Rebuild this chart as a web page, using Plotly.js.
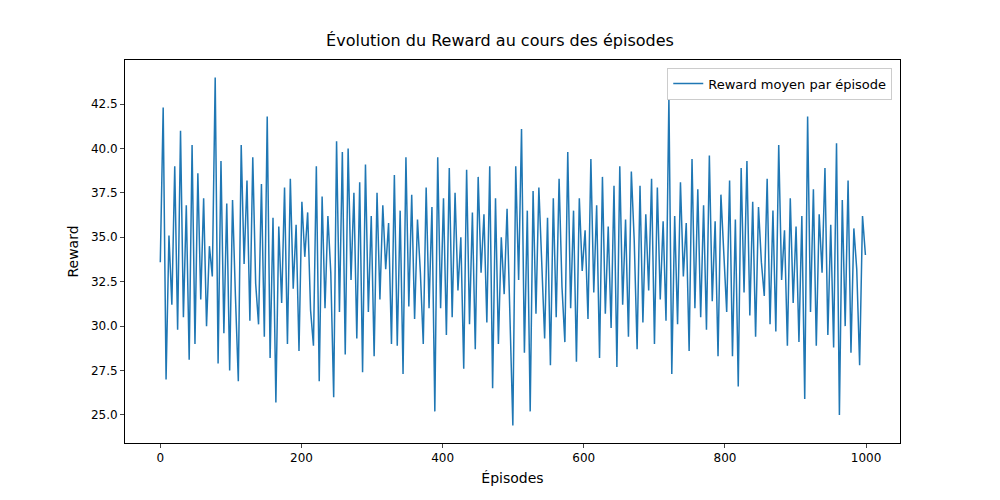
<!DOCTYPE html>
<html><head><meta charset="utf-8">
<script src="https://cdn.plot.ly/plotly-3.0.1.min.js"></script>
<style>body{margin:0}#chart{width:1000px;height:500px}</style>
</head><body><div id="chart"></div>
<script>
const rewards = [
  33.6, 42.3, 27.0, 35.1, 31.2, 39.0, 29.8, 41.0, 30.5, 36.8,
  28.1, 40.2, 29.0, 38.6, 31.5, 37.2, 30.0, 34.5, 32.8, 44.0,
  27.9, 39.3, 29.6, 36.9, 27.5, 37.1, 31.7, 26.9, 40.2, 33.5,
  38.2, 30.3, 39.5, 32.4, 30.1, 38.0, 29.4, 41.8, 28.2, 36.1,
  25.7, 35.6, 31.3, 37.8, 29.0, 38.3, 32.1, 35.7, 28.6, 37.0,
  33.9, 36.4, 30.9, 28.9, 39.0, 26.9, 37.3, 31.0, 36.2, 33.0,
  26.0, 40.4, 30.8, 39.8, 28.4, 40.0, 32.6, 37.5, 29.3, 38.1,
  27.4, 39.1, 30.8, 36.2, 28.3, 37.5, 31.5, 36.8, 33.2, 35.8,
  29.0, 38.5, 28.9, 36.5, 27.3, 39.5, 31.1, 37.4, 30.4, 36.0,
  33.0, 29.0, 37.8, 31.0, 36.7, 25.2, 39.5, 31.0, 37.2, 29.5,
  38.9, 30.5, 37.5, 32.0, 35.0, 27.6, 38.8, 30.1, 36.4, 28.7,
  38.4, 33.0, 36.3, 30.2, 39.0, 26.5, 37.2, 29.0, 35.0, 31.8,
  36.6, 29.6, 24.4, 39.0, 32.6, 41.1, 28.5, 36.5, 25.2, 37.6,
  30.7, 37.8, 33.5, 29.3, 36.1, 27.8, 37.2, 30.5, 38.3, 32.2,
  29.1, 39.8, 31.0, 36.5, 28.0, 37.2, 33.1, 35.4, 30.4, 39.4,
  31.9, 36.8, 28.2, 38.4, 30.7, 35.6, 29.9, 37.9, 27.7, 39.0,
  31.2, 36.0, 29.4, 38.7, 34.8, 28.7, 37.9, 30.2, 36.3, 32.0,
  38.3, 29.0, 37.8, 31.5, 35.9, 30.3, 42.9, 27.3, 36.2, 30.1,
  38.1, 32.8, 35.8, 28.6, 39.4, 31.0, 37.7, 30.5, 36.8, 29.8,
  39.6, 31.4, 35.9, 28.3, 37.4, 33.8, 30.8, 38.2, 28.3, 36.0,
  26.6, 38.9, 31.9, 39.3, 30.6, 37.0, 29.4, 36.7, 33.6, 31.7,
  38.3, 30.1, 36.5, 29.7, 40.2, 32.6, 35.4, 28.9, 37.2, 31.3,
  35.6, 29.1, 36.2, 25.9, 41.8, 30.8, 37.7, 28.9, 36.3, 33.0,
  38.9, 29.5, 35.7, 28.8, 40.3, 25.0, 37.1, 30.0, 38.2, 28.5,
  35.5, 33.2, 27.8, 36.2, 34.0
];
const lastEpisode = 999;
const episodes = rewards.map((_, i) => i * lastEpisode / (rewards.length - 1));

Plotly.newPlot('chart', [{
  x: episodes,
  y: rewards,
  type: 'scatter',
  mode: 'lines',
  name: 'Reward moyen par épisode',
  line: { color: '#1f77b4', width: 1.5 }
}], {
  width: 1000, height: 500,
  font: { family: 'DejaVu Sans', size: 12, color: '#000' },
  title: { text: 'Évolution du Reward au cours des épisodes', x: 0.5, y: 0.93, font: { size: 16 } },
  margin: { l: 125, r: 100, t: 60, b: 57 },
  paper_bgcolor: '#fff', plot_bgcolor: '#fff',
  xaxis: {
    title: { text: 'Épisodes', standoff: 8 },
    range: [-50, 1048], tickvals: [0, 200, 400, 600, 800, 1000],
    showgrid: false, zeroline: false, showline: true, mirror: true,
    linecolor: '#000', ticks: 'outside', ticklen: 4
  },
  yaxis: {
    title: { text: 'Reward', standoff: 8 },
    range: [23.42, 44.98], tickvals: [25, 27.5, 30, 32.5, 35, 37.5, 40, 42.5],
    ticktext: ['25.0', '27.5', '30.0', '32.5', '35.0', '37.5', '40.0', '42.5'],
    showgrid: false, zeroline: false, showline: true, mirror: true,
    linecolor: '#000', ticks: 'outside', ticklen: 4
  },
  showlegend: true,
  legend: { x: 0.99, y: 0.98, xanchor: 'right', yanchor: 'top',
    bordercolor: '#ccc', borderwidth: 1, font: { size: 13 } }
}, { displayModeBar: false });
</script></body></html>
